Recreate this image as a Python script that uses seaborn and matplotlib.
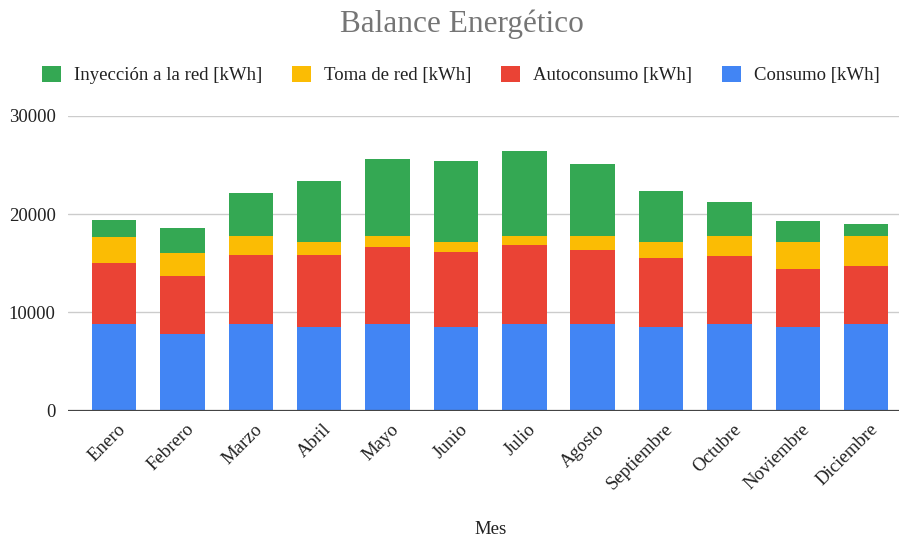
import matplotlib
matplotlib.use("Agg")
import matplotlib.pyplot as plt
import matplotlib.transforms as mtransforms
import seaborn as sns
import numpy as np
import pandas as pd
from matplotlib.patches import Patch

# Monthly energy balance (kWh)
meses = ["Enero", "Febrero", "Marzo", "Abril", "Mayo", "Junio", "Julio",
         "Agosto", "Septiembre", "Octubre", "Noviembre", "Diciembre"]
consumo = [8800, 7800, 8800, 8500, 8800, 8500, 8800, 8800, 8500, 8800, 8500, 8800]
autoconsumo = [6200, 5900, 7050, 7350, 7850, 7650, 8050, 7550, 7050, 6900, 5900, 5900]
toma_red = [2650, 2300, 1950, 1350, 1100, 1000, 950, 1450, 1600, 2100, 2750, 3100]
inyeccion = [1800, 2600, 4400, 6150, 7850, 8300, 8650, 7350, 5200, 3450, 2150, 1150]

series = [
    ("Consumo [kWh]", consumo, "#4285F4"),
    ("Autoconsumo [kWh]", autoconsumo, "#EA4335"),
    ("Toma de red [kWh]", toma_red, "#FBBC04"),
    ("Inyección a la red [kWh]", inyeccion, "#34A853"),
]

sns.set_theme(style="white")
plt.rcParams["font.family"] = ["Liberation Serif", "DejaVu Serif"]

fig = plt.figure(figsize=(8.99, 5.37), dpi=100)
ax = fig.add_axes([68 / 899, 1 - 410.5 / 537, 1 - 68 / 899, (410.5 - 116) / 537])

# Stacked bars: draw cumulative totals from the top layer down
df = pd.DataFrame({"Mes": meses})
cum = np.zeros(len(meses))
layers = []
for name, vals, color in series:
    cum = cum + np.array(vals)
    layers.append((name, cum.copy(), color))
for name, tot, color in reversed(layers):
    df[name] = tot
    sns.barplot(data=df, x="Mes", y=name, color=color, width=0.65,
                linewidth=0, saturation=1, ax=ax, zorder=3)

ax.set_ylim(0, 30000)
ax.set_xlim(-0.673, 11.48)
ax.set_yticks([0, 10000, 20000, 30000])
ax.set_yticklabels(["0", "10000", "20000", "30000"])
ax.yaxis.grid(True, color="#cccccc", linewidth=1, zorder=0)
ax.set_axisbelow(True)
for s in ax.spines.values():
    s.set_visible(False)
ax.axhline(0, color="#444444", linewidth=1.6, zorder=4)
ax.tick_params(axis="both", length=0, labelsize=13.5, colors="#222222")
ax.tick_params(axis="y", pad=9)
ax.tick_params(axis="x", pad=6)
shift = mtransforms.ScaledTranslation(9 / 100, -8 / 100, fig.dpi_scale_trans)
for lbl in ax.get_xticklabels():
    lbl.set_rotation(45)
    lbl.set_ha("right")
    lbl.set_va("center")
    lbl.set_rotation_mode("anchor")
    lbl.set_transform(lbl.get_transform() + shift)

ax.set_ylabel("")
ax.set_xlabel("Mes", fontsize=13.5, color="#222222")
ax.xaxis.set_label_coords((491 - 68) / 831, (410.5 - 530) / 294.5)
ax.xaxis.label.set_va("center")

fig.text(461.5 / 899, 1 - 24 / 537, "Balance Energético", ha="center", va="center",
         fontsize=22.5, color="#757575")

handles = [Patch(facecolor=c, edgecolor="none", label=n) for n, _, c in reversed(series)]
fig.legend(handles=handles, loc="center", bbox_to_anchor=(461 / 899, 1 - 75 / 537),
           ncol=4, frameon=False, fontsize=13.5, handlelength=1.0, handleheight=1.0,
           handletextpad=0.7, columnspacing=1.6, labelcolor="#222222")

fig.savefig("out.png", dpi=100)
